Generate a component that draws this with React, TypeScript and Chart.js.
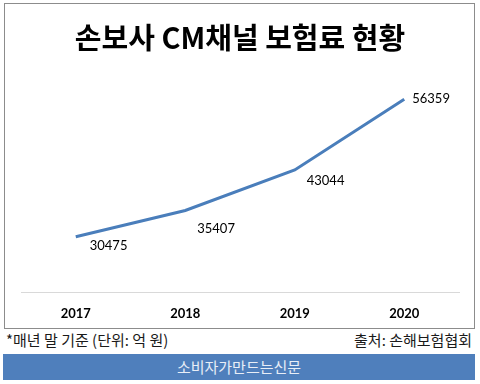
import React, { useEffect, useRef } from "react";
import { Chart, registerables } from "chart.js";

Chart.register(...registerables);

const categories = ["2017", "2018", "2019", "2020"];
const premiums = [30475, 35407, 43044, 56359];
const titleText = "손보사 CM채널 보험료 현황";
const noteText = "*매년 말 기준 (단위: 억 원)";
const sourceText = "출처: 손해보험협회";
const bannerText = "소비자가만드는신문";

// label offsets relative to each point (layout only)
const labelDx = [14, 12, 12, 8];
const labelDy = [9, 18, 11, 0];

const valueLabels = {
  id: "valueLabels",
  afterDatasetsDraw(chart: any) {
    const ctx = chart.ctx;
    const meta = chart.getDatasetMeta(0);
    ctx.save();
    ctx.font = "13px Lato";
    ctx.fillStyle = "#000000";
    ctx.textAlign = "left";
    ctx.textBaseline = "middle";
    meta.data.forEach((pt: any, i: number) => {
      ctx.fillText(String(premiums[i]), pt.x + labelDx[i], pt.y + labelDy[i]);
    });
    ctx.restore();
  },
};

export default function App() {
  const ref = useRef<HTMLCanvasElement>(null);
  useEffect(() => {
    if (!ref.current) return;
    const chart = new Chart(ref.current, {
      type: "line",
      data: {
        labels: categories,
        datasets: [
          {
            data: premiums,
            borderColor: "#4a7ebb",
            borderWidth: 3,
            pointRadius: 0,
            tension: 0,
            fill: false,
          },
        ],
      },
      options: {
        animation: false,
        responsive: false,
        maintainAspectRatio: false,
        layout: { padding: { left: 16, right: 15, top: 0, bottom: 6 } },
        plugins: {
          legend: { display: false },
          tooltip: { enabled: false },
          title: {
            display: true,
            text: titleText,
            color: "#000000",
            font: { family: "'Noto Sans CJK KR'", size: 29, weight: "bold" },
            padding: { top: 17, bottom: 24 },
          },
        },
        scales: {
          x: {
            offset: true,
            grid: { display: false, drawTicks: true, tickLength: 14 },
            border: { display: true, color: "#d9d9d9", width: 1 },
            ticks: {
              color: "#000000",
              font: { family: "Lato", size: 13, weight: "bold" },
              padding: 0,
            },
          },
          y: {
            display: false,
            min: 20000,
            max: 60000,
          },
        },
      },
      plugins: [valueLabels],
    });
    return () => chart.destroy();
  }, []);

  return (
    <div
      style={{
        position: "fixed",
        left: 0,
        top: 0,
        width: 480,
        height: 384,
        background: "#ffffff",
        overflow: "hidden",
      }}
    >
      <div
        style={{
          position: "absolute",
          left: 4,
          top: 3,
          width: 469,
          height: 324,
          border: "1px solid #8c8c8c",
        }}
      >
        <canvas ref={ref} width={469} height={324} style={{ display: "block" }} />
      </div>
      <div
        style={{
          position: "absolute",
          left: 6,
          top: 330,
          fontFamily: "'Noto Sans CJK KR'",
          fontSize: 15,
          lineHeight: "20px",
          color: "#1a1a1a",
          whiteSpace: "nowrap",
        }}
      >
        {noteText}
      </div>
      <div
        style={{
          position: "absolute",
          right: 8,
          top: 330,
          fontFamily: "'Noto Sans CJK KR'",
          fontSize: 15,
          lineHeight: "20px",
          color: "#1a1a1a",
          whiteSpace: "nowrap",
        }}
      >
        {sourceText}
      </div>
      <div
        style={{
          position: "absolute",
          left: 3,
          top: 354,
          width: 472,
          height: 26,
          background: "#4f7fbc",
          color: "#e8eef7",
          fontFamily: "'Noto Sans CJK KR'",
          fontSize: 15,
          lineHeight: "26px",
          textAlign: "center",
        }}
      >
        {bannerText}
      </div>
    </div>
  );
}
